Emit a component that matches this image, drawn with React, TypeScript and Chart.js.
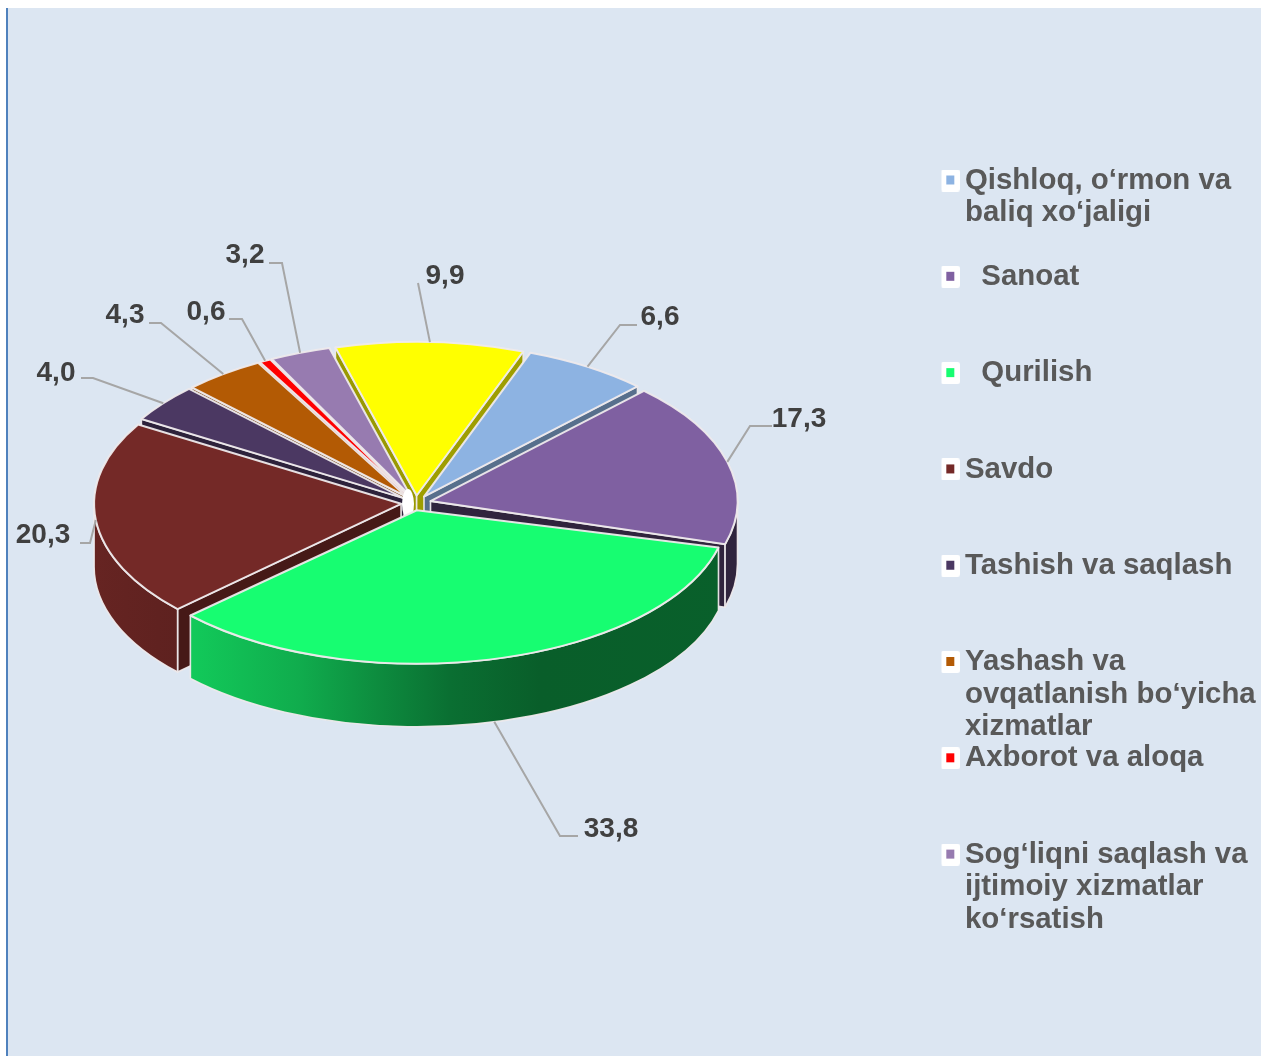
import React, { useEffect, useRef } from "react";
import { Chart, registerables } from "chart.js";

Chart.register(...registerables);

const CATEGORIES = [
  ["Qishloq, o‘rmon va", "baliq xo‘jaligi", ""],
  ["  Sanoat", "", ""],
  ["  Qurilish", "", ""],
  ["Savdo", "", ""],
  ["Tashish va saqlash", "", ""],
  ["Yashash va", "ovqatlanish bo‘yicha", "xizmatlar"],
  ["Axborot va aloqa", "", ""],
  ["Sog‘liqni saqlash va", "ijtimoiy xizmatlar", "ko‘rsatish"],
  ["Boshqa", "", ""],
];
const VALUES = [6.6, 17.3, 33.8, 20.3, 4.0, 4.3, 0.6, 3.2, 9.9];
const COLORS = ["#8DB3E2", "#7F60A1", "#17FD71", "#742927", "#4B3862", "#B35A04", "#FF0000", "#977BB0", "#FFFF00"];
const LEGEND_COUNT = 8;

// layout of the 3D look and of the leader lines (page pixels)
const CX = 416, CY = 503, RADIUS = 307, SQUASH = 0.5, EXPLODE = 15, DEPTH = 63;
const ROTATION = 20.3;
// the reference is drawn in perspective: per-slice small corrections (degrees at each edge; widening; x shift)
const EDGE_NUDGE: [number, number][] = [[0, 0], [0, 0], [-2.3, -1.3], [-1.3, 0], [0, 0], [0, 0], [0, 0], [0, 0], [0, 0]];
const WIDEN = [1, 1, 1.013, 1, 1, 1, 1, 1, 1];
const SHIFT_X = [0, 0, -3, 0, 0, 0, 0, 0, 0];
const SHADE_X0 = 95, SHADE_X1 = 738;
const SHADE_STOPS: [number, number][] = [[95, 0.88], [190, 0.8], [300, 0.68], [380, 0.55], [450, 0.44], [540, 0.37], [738, 0.38]];
const LABEL_SPOTS: { tx: number; ty: number; elbow: [number, number]; stub: [number, number] }[] = [
  { tx: 660, ty: 317, elbow: [620, 325], stub: [637, 325] },
  { tx: 799, ty: 419, elbow: [750, 426], stub: [772, 426] },
  { tx: 611, ty: 829, elbow: [560, 836], stub: [578, 836] },
  { tx: 43, ty: 535, elbow: [90, 543], stub: [80, 543] },
  { tx: 56, ty: 373, elbow: [93, 378], stub: [81, 378] },
  { tx: 125, ty: 315, elbow: [161, 323], stub: [149, 323] },
  { tx: 206, ty: 312, elbow: [242, 319], stub: [229, 319] },
  { tx: 245, ty: 255, elbow: [282, 263], stub: [269, 263] },
  { tx: 445, ty: 276, elbow: [418, 283], stub: [418, 283] },
];

const FONT_FAMILY = "'Liberation Sans', Arial, sans-serif";
const LEGEND_FONT_SIZE = 29.4;
const OUTLINE = "rgba(238,234,236,0.95)";
const DEG = Math.PI / 180;

function shade(hex: string, f: number) {
  const n = parseInt(hex.slice(1), 16);
  const r = Math.round(((n >> 16) & 255) * f);
  const g = Math.round(((n >> 8) & 255) * f);
  const b = Math.round((n & 255) * f);
  return `rgb(${r},${g},${b})`;
}

function swatch(color: string) {
  // transparent left part keeps the white tile clear of the legend's clip box
  const c = document.createElement("canvas");
  c.width = 30;
  c.height = 22;
  const x = c.getContext("2d")!;
  x.fillStyle = "#ffffff";
  x.beginPath();
  x.roundRect(10, 0, 20, 22, 3);
  x.fill();
  x.fillStyle = color;
  x.fillRect(16, 6, 8, 9);
  return c;
}

const pie3d = {
  id: "pie3d",
  afterLayout(chart: any) {
    const l = chart.legend;
    const h = l.height;
    l.left = 941.5;
    l.top = 167;
    l.right = 1261;
    l.width = l.right - l.left;
    l.bottom = l.top + h;
  },
  beforeDatasetsDraw(chart: any) {
    const ctx: CanvasRenderingContext2D = chart.ctx;
    const arcs: any[] = chart.getDatasetMeta(0).data;
    const order = arcs
      .map((el, i) => ({ el, i, mid: (el.startAngle + el.endAngle) / 2 }))
      .sort((a, b) => Math.sin(a.mid) - Math.sin(b.mid));
    for (const { el, i } of order) {
      const base1 = el.startAngle, base2 = el.endAngle, baseC = el.circumference;
      const a1 = base1 + EDGE_NUDGE[i][0] * DEG;
      const a2 = base2 + EDGE_NUDGE[i][1] * DEG;
      const mid = (a1 + a2) / 2;
      const rx = RADIUS * WIDEN[i];
      const ry = RADIUS * SQUASH;
      const ox = CX + SHIFT_X[i] + Math.cos(mid) * EXPLODE;
      const oy = CY + Math.sin(mid) * EXPLODE * SQUASH;
      const color = COLORS[i];
      const px = (a: number) => ox + rx * Math.cos(a);
      const py = (a: number) => oy + ry * Math.sin(a);
      ctx.save();
      ctx.lineWidth = 1.6;
      ctx.strokeStyle = OUTLINE;
      ctx.lineJoin = "round";
      // radial walls that face the viewer
      const wall = (a: number, f: number) => {
        ctx.beginPath();
        ctx.moveTo(ox, oy);
        ctx.lineTo(px(a), py(a));
        ctx.lineTo(px(a), py(a) + DEPTH);
        ctx.lineTo(ox, oy + DEPTH);
        ctx.closePath();
        ctx.fillStyle = shade(color, f);
        ctx.fill();
        ctx.stroke();
      };
      if (Math.cos(a1) < 0) wall(a1, 0.6);
      if (Math.cos(a2) > 0) wall(a2, i === 1 ? 0.38 : 0.62);
      // rim
      const from = Math.max(a1, 0), to = Math.min(a2, Math.PI);
      if (to > from) {
        const g = ctx.createLinearGradient(SHADE_X0, 0, SHADE_X1, 0);
        for (const [x, f] of SHADE_STOPS) g.addColorStop((x - SHADE_X0) / (SHADE_X1 - SHADE_X0), shade(color, f));
        ctx.beginPath();
        ctx.ellipse(ox, oy, rx, ry, 0, from, to);
        ctx.lineTo(px(to), py(to) + DEPTH);
        ctx.ellipse(ox, oy + DEPTH, rx, ry, 0, to, from, true);
        ctx.closePath();
        ctx.fillStyle = g;
        ctx.fill();
        ctx.stroke();
      }
      // the library's own arc, flattened, as the top face
      ctx.save();
      ctx.translate(ox, oy);
      ctx.scale(WIDEN[i], SQUASH);
      ctx.translate(-el.x, -el.y);
      el.startAngle = a1;
      el.endAngle = a2;
      el.circumference = a2 - a1;
      el.draw(ctx);
      el.startAngle = base1;
      el.endAngle = base2;
      el.circumference = baseC;
      ctx.restore();
      ctx.beginPath();
      ctx.moveTo(ox, oy);
      ctx.ellipse(ox, oy, rx, ry, 0, a1, a2);
      ctx.closePath();
      ctx.lineWidth = 2;
      ctx.stroke();
      // the pale gap where the thin slices meet, just before the front slice is painted
      if (i === 3) {
        ctx.fillStyle = "#FFFFFF";
        ctx.beginPath();
        ctx.ellipse(CX - 8, CY + 1, 6, 15, 0, 0, Math.PI * 2);
        ctx.fill();
      }
      ctx.restore();
    }
    return false;
  },
  afterDraw(chart: any) {
    const ctx: CanvasRenderingContext2D = chart.ctx;
    const arcs: any[] = chart.getDatasetMeta(0).data;
    ctx.save();
    arcs.forEach((el, i) => {
      const mid = (el.startAngle + el.endAngle) / 2 + ((EDGE_NUDGE[i][0] + EDGE_NUDGE[i][1]) / 2) * DEG;
      const r = RADIUS + EXPLODE;
      const ax = CX + SHIFT_X[i] + r * Math.cos(mid);
      const ay = CY + r * SQUASH * Math.sin(mid) + (Math.sin(mid) > 0.5 ? DEPTH : 0);
      const spot = LABEL_SPOTS[i];
      ctx.strokeStyle = "#A6A6A6";
      ctx.lineWidth = 2;
      ctx.beginPath();
      ctx.moveTo(ax, ay);
      ctx.lineTo(spot.elbow[0], spot.elbow[1]);
      ctx.lineTo(spot.stub[0], spot.stub[1]);
      ctx.stroke();
      ctx.fillStyle = "#404040";
      ctx.font = `bold 28px ${FONT_FAMILY}`;
      ctx.textAlign = "center";
      ctx.textBaseline = "middle";
      ctx.fillText(VALUES[i].toFixed(1).replace(".", ","), spot.tx, spot.ty);
    });
    ctx.restore();
  },
};

export default function App() {
  const ref = useRef<HTMLCanvasElement>(null);
  useEffect(() => {
    const chart = new Chart(ref.current!, {
      type: "pie",
      data: {
        labels: CATEGORIES as any,
        datasets: [{ data: VALUES, backgroundColor: COLORS, borderWidth: 0 }],
      },
      options: {
        responsive: false,
        animation: false,
        rotation: ROTATION,
        radius: RADIUS,
        events: [],
        plugins: {
          tooltip: { enabled: false },
          legend: {
            position: "right",
            align: "start",
            labels: {
              usePointStyle: true,
              pointStyleWidth: 10,
              padding: -1.2,
              color: "#595959",
              font: { family: FONT_FAMILY, size: LEGEND_FONT_SIZE, weight: "bold", lineHeight: 32.5 / LEGEND_FONT_SIZE },
              generateLabels: () =>
                CATEGORIES.slice(0, LEGEND_COUNT).map((text, index) => ({
                  text,
                  index,
                  fillStyle: COLORS[index],
                  strokeStyle: "#ffffff",
                  lineWidth: 0,
                  hidden: false,
                  pointStyle: swatch(COLORS[index]),
                  fontColor: "#595959",
                })) as any,
            },
          },
        },
      } as any,
      plugins: [pie3d as any],
    });
    return () => chart.destroy();
  }, []);
  return (
    <div style={{ position: "absolute", left: 0, top: 0, width: 1261, height: 1056, overflow: "hidden" }}>
      <div
        style={{
          position: "absolute",
          left: 6,
          top: 8,
          width: 1255,
          height: 1048,
          boxSizing: "border-box",
          background: "#DCE6F2",
          borderLeft: "2px solid #4F81BD",
        }}
      />
      <canvas ref={ref} width={1261} height={1056} style={{ position: "absolute", left: 0, top: 0, display: "block" }} />
    </div>
  );
}
